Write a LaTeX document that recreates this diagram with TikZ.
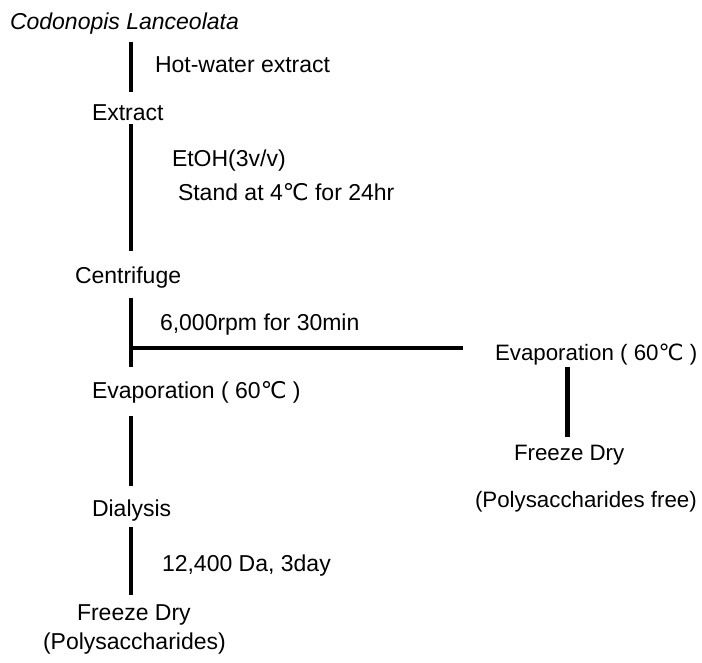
\documentclass[tikz,border=0pt]{standalone}
\usepackage{fontspec}
\setmainfont{Liberation Sans}
\newfontfamily\symfont{DejaVu Sans}
\newcommand{\degC}{{\symfont ℃}}
\begin{document}
\begin{tikzpicture}[x=1pt,y=-1pt,
  lbl/.style={anchor=base west,inner sep=0pt,outer sep=0pt,
    font=\fontsize{23}{27}\selectfont},
  sidelbl/.style={lbl,font=\fontsize{22.3}{26}\selectfont},
  flow/.style={line width=4pt}]
\useasboundingbox (0,0) rectangle (702,662);

% process steps (main branch)
\node[lbl,font=\fontsize{23}{27}\selectfont\itshape] (src) at (10,29) {Codonopis Lanceolata};
\node[lbl] (extract) at (92,120) {Extract};
\node[lbl] (centri) at (75,283) {Centrifuge};
\node[lbl] (evapL) at (92,398) {Evaporation ( 60\degC\ )};
\node[lbl] (dialysis) at (92,516) {Dialysis};
\node[lbl] (dryL) at (77,620) {Freeze Dry};
\node[lbl] (prodL) at (43,649) {(Polysaccharides)};

% side branch
\node[sidelbl] (evapR) at (495,360) {Evaporation ( 60\degC\ )};
\node[sidelbl] (dryR) at (514,460) {Freeze Dry};
\node[sidelbl] (prodR) at (475,507) {(Polysaccharides free)};

% conditions beside the connectors
\node[lbl] (c1) at (155,72) {Hot-water extract};
\node[lbl] (c2) at (172,166) {EtOH(3v/v)};
\node[lbl] (c3) at (178,200) {Stand at 4\degC\ for 24hr};
\node[lbl] (c4) at (160,330) {6,000rpm for 30min};
\node[lbl] (c5) at (162,571) {12,400 Da, 3day};

% connector end points
\coordinate (a1) at (131,42);  \coordinate (a2) at (131,92);
\coordinate (b1) at (131,124); \coordinate (b2) at (131,251);
\coordinate (d1) at (131,298); \coordinate (d2) at (131,367);
\coordinate (j)  at (131,348); \coordinate (k)  at (463,348);
\coordinate (e1) at (131,416); \coordinate (e2) at (131,486);
\coordinate (f1) at (131,527); \coordinate (f2) at (131,595);
\coordinate (g1) at (567,367); \coordinate (g2) at (567,437);

\draw[flow] (a1) -- (a2);
\draw[flow] (b1) -- (b2);
\draw[flow] (d1) -- (d2);
\draw[flow] (j) -- (k);
\draw[flow] (e1) -- (e2);
\draw[flow] (f1) -- (f2);
\draw[flow,line width=5pt] (g1) -- (g2);
\end{tikzpicture}
\end{document}
